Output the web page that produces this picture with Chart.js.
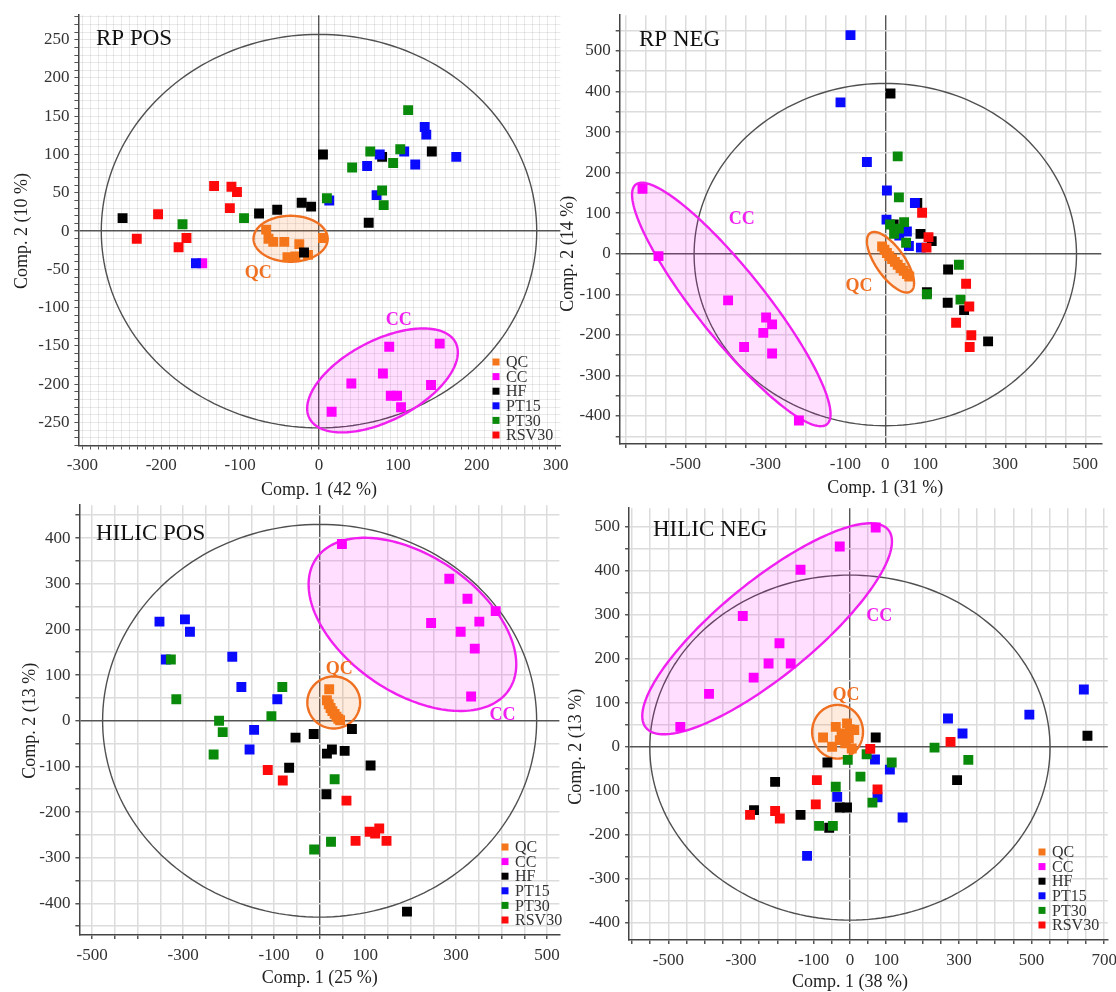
<!DOCTYPE html>
<html><head><meta charset="utf-8">
<script src="https://cdn.jsdelivr.net/npm/chart.js@4.4.1/dist/chart.umd.min.js"></script>
<style>
html,body{margin:0;padding:0;background:#fff;}
body{width:1116px;height:992px;position:relative;overflow:hidden;}
canvas{position:absolute;}
</style></head><body>
<canvas id="c1"></canvas><canvas id="c2"></canvas><canvas id="c3"></canvas><canvas id="c4"></canvas>
<script>
// ---------- groups ----------
const GROUPS = ['QC','CC','HF','PT15','PT30','RSV30'];
const COLORS = ['#f5761a','#ff00ff','#000000','#0a0aff','#0a8a0a','#ff0a0a'];

// ---------- RP POS ----------
const RPPOS_QC = [[-67,2],[-64,-10],[-58,-14],[-44,-14],[-25,-17],[-40,-34],[-30,-33],[-14,-31],[5,-9]];
const RPPOS_CC = [[-148,-42],[89,-151],[153,-147],[81,-186],[41,-199],[142,-201],[91,-215],[99,-215],[104,-230],[16,-236]];
const RPPOS_HF = [[-249,17],[-76,23],[-53,28],[-22,37],[-10,32],[5,100],[63,11],[80,97],[143,104],[-19,-28]];
const RPPOS_PT15 = [[13,40],[61,85],[77,100],[73,47],[108,104],[122,87],[134,136],[136,126],[174,97],[-156,-42]];
const RPPOS_PT30 = [[-173,9],[-95,17],[10,43],[42,83],[65,104],[80,53],[82,34],[94,89],[103,107],[113,158]];
const RPPOS_RSV30 = [[-231,-10],[-204,22],[-168,-9],[-178,-21],[-133,59],[-111,58],[-104,51],[-113,30]];
const RPPOS_XTICKS = [-300,-200,-100,0,100,200,300];
const RPPOS_YTICKS = [-250,-200,-150,-100,-50,0,50,100,150,200,250];

// ---------- RP NEG ----------
const RPNEG_QC = [[-8,18],[-2,10],[4,2],[10,-6],[17,-13],[24,-20],[31,-27],[38,-35],[46,-42],[54,-50],[60,-56]];
const RPNEG_CC = [[-607,160],[-567,-6],[-393,-115],[-298,-157],[-283,-174],[-305,-195],[-353,-230],[-283,-246],[-216,-411]];
const RPNEG_HF = [[13,395],[80,125],[21,72],[88,49],[116,31],[157,-39],[156,-121],[197,-139],[257,-216],[104,-95]];
const RPNEG_PT15 = [[-87,539],[-112,373],[-46,226],[4,156],[74,125],[3,84],[54,55],[59,19],[89,15],[35,45]];
const RPNEG_PT30 = [[31,240],[34,139],[47,78],[12,72],[22,49],[52,27],[104,-100],[184,-27],[188,-113],[34,62]];
const RPNEG_RSV30 = [[92,101],[108,41],[103,15],[202,-74],[210,-130],[177,-170],[215,-201],[211,-230]];
const RPNEG_XTICKS = [-500,-300,-100,0,100,300,500];
const RPNEG_YTICKS = [-400,-300,-200,-100,0,100,200,300,400,500];

// ---------- HILIC POS ----------
const HILPOS_QC = [[21,69],[16,45],[20,36],[24,28],[28,21],[33,15],[37,9],[41,4],[45,1]];
const HILPOS_CC = [[49,387],[285,311],[325,267],[387,240],[245,214],[351,217],[310,195],[341,158],[333,53]];
const HILPOS_HF = [[71,-18],[-13,-29],[-53,-37],[16,-72],[27,-63],[55,-66],[-67,-103],[112,-98],[15,-161],[192,-418]];
const HILPOS_PT15 = [[-352,217],[-296,222],[-285,195],[-338,134],[-192,140],[-172,74],[-93,47],[-144,-20],[-154,-63]];
const HILPOS_PT30 = [[-327,134],[-315,47],[-82,74],[-106,10],[-221,0],[-213,-25],[-233,-74],[33,-128],[25,-265],[-12,-282]];
const HILPOS_RSV30 = [[-114,-108],[-81,-131],[59,-175],[110,-243],[131,-236],[122,-247],[79,-263],[147,-263]];
const HILPOS_XTICKS = [-500,-300,-100,0,100,300,500];
const HILPOS_YTICKS = [-400,-300,-200,-100,0,100,200,300,400];

// ---------- HILIC NEG ----------
const HILNEG_QC = [[-74,21],[-49,0],[-39,45],[-23,30],[-3,19],[12,38],[-8,53],[-13,8],[5,-4],[-28,15],[0,40]];
const HILNEG_CC = [[71,498],[-28,455],[-136,402],[-295,297],[-194,235],[-224,189],[-163,189],[-265,157],[-388,120],[-467,45]];
const HILNEG_HF = [[654,25],[71,21],[-62,-36],[-206,-80],[295,-76],[-264,-144],[-136,-155],[-28,-138],[-8,-138],[-57,-184]];
const HILNEG_PT15 = [[644,130],[494,73],[270,64],[310,30],[69,-29],[110,-52],[-35,-114],[76,-115],[145,-161],[-118,-248]];
const HILNEG_PT30 = [[233,-2],[326,-30],[115,-36],[46,-17],[-6,-30],[29,-68],[-39,-91],[62,-127],[-85,-180],[-47,-180]];
const HILNEG_RSV30 = [[277,11],[56,-5],[-91,-76],[76,-97],[-94,-131],[-206,-146],[-193,-163],[-275,-155]];
const HILNEG_XTICKS = [-500,-300,-100,0,100,300,500,700];
const HILNEG_YTICKS = [-400,-300,-200,-100,0,100,200,300,400,500];

// confidence regions: [centerX, centerY, semiAxisA, semiAxisB, angleDeg]
const RPPOS_REGIONS = {T2:[0,0,276,257,0], QC:[-36,-10,47,30,0], CC:[80.5,-195,105,52,28.6]};
const RPNEG_REGIONS = {T2:[0,-2,478,422,0], QC:[13,-21,88,36,-54.5], CC:[-385,-125,380,85,-51]};
const HILPOS_REGIONS = {T2:[0,0,477,430,0], QC:[31,40,58,57,0], CC:[204,211,256,150,-34]};
const HILNEG_REGIONS = {T2:[0,-2,551,392,0], QC:[-34,34,70,61,0], CC:[-228,268,403,115,33]};
// group label anchors (data coords)
const RPPOS_LABELS = {QC:[-77,-55], CC:[101,-117]};
const RPNEG_LABELS = {QC:[-66,-80], CC:[-359,86]};
const HILPOS_LABELS = {QC:[43,113], CC:[402,12]};
const HILNEG_LABELS = {QC:[-11,117], CC:[81,297]};

const SERIF = '"Liberation Serif", "Times New Roman", serif';

const PANELS = [
 {id:'c1', left:0, top:0, w:600, h:505, area:[78.4,15.0,560.4,445.5], xr:[-305,306], yr:[-280,282], step:10,
  name:'RP POS', namePos:[96,39], xTitle:'Comp. 1 (42 %)', yTitle:'Comp. 2 (10 %)', xTitleY:490, yTitleX:22,
  xt:RPPOS_XTICKS, yt:RPPOS_YTICKS, groups:[RPPOS_QC,RPPOS_CC,RPPOS_HF,RPPOS_PT15,RPPOS_PT30,RPPOS_RSV30],
  regions:RPPOS_REGIONS, labels:RPPOS_LABELS, legend:[496,362], grid:'rgba(0,0,0,0.085)', gridW:1},
 {id:'c2', left:556, top:0, w:560, h:505, area:[619.7,14.2,1101.3,444.0], xr:[-664,540], yr:[-469,588], step:50,
  name:'RP NEG', namePos:[639,40], xTitle:'Comp. 1 (31 %)', yTitle:'Comp. 2 (14 %)', xTitleY:488, yTitleX:568,
  xt:RPNEG_XTICKS, yt:RPNEG_YTICKS, groups:[RPNEG_QC,RPNEG_CC,RPNEG_HF,RPNEG_PT15,RPNEG_PT30,RPNEG_RSV30],
  regions:RPNEG_REGIONS, labels:RPNEG_LABELS, legend:null, grid:'#dcdcdc', gridW:1.5},
 {id:'c3', left:0, top:490, w:600, h:502, area:[79.4,505.1,559.4,934.9], xr:[-528,527], yr:[-469,472], step:50,
  name:'HILIC POS', namePos:[96,534], xTitle:'Comp. 1 (25 %)', yTitle:'Comp. 2 (13 %)', xTitleY:978, yTitleX:30,
  xt:HILPOS_XTICKS, yt:HILPOS_YTICKS, groups:[HILPOS_QC,HILPOS_CC,HILPOS_HF,HILPOS_PT15,HILPOS_PT30,HILPOS_RSV30],
  regions:HILPOS_REGIONS, labels:HILPOS_LABELS, legend:[505,847], grid:'#dcdcdc', gridW:1.5},
 {id:'c4', left:556, top:490, w:580, h:502, area:[629.1,508.2,1107.8,939.9], xr:[-608,710], yr:[-439,542], step:50,
  name:'HILIC NEG', namePos:[653,530], xTitle:'Comp. 1 (38 %)', yTitle:'Comp. 2 (13 %)', xTitleY:982, yTitleX:576,
  xt:HILNEG_XTICKS, yt:HILNEG_YTICKS, groups:[HILNEG_QC,HILNEG_CC,HILNEG_HF,HILNEG_PT15,HILNEG_PT30,HILNEG_RSV30],
  regions:HILNEG_REGIONS, labels:HILNEG_LABELS, legend:[1042,852], grid:'#dcdcdc', gridW:1.5}
];

const decor = {
  id:'decor',
  beforeDatasetsDraw(chart, args, o) {
    const {ctx, chartArea:a, scales:{x,y}} = chart;
    const p = o.panel;
    ctx.save();
    ctx.beginPath(); ctx.rect(a.left, a.top, a.right-a.left, a.bottom-a.top); ctx.clip();
    const styles = [
      ['T2', null, '#505050', 1.4],
      ['QC', 'rgba(245,118,26,0.15)', '#f07022', 2.4],
      ['CC', 'rgba(255,0,255,0.13)', '#f020f0', 2.4]
    ];
    styles.forEach(([k, fill, stroke, lw]) => {
      const [cx, cy, ra, rb, deg] = p.regions[k];
      const th = deg*Math.PI/180, c = Math.cos(th), s = Math.sin(th);
      ctx.beginPath();
      for (let i = 0; i <= 200; i++) {
        const t = i/200*2*Math.PI, dx = ra*Math.cos(t), dy = rb*Math.sin(t);
        const px = x.getPixelForValue(cx + dx*c - dy*s), py = y.getPixelForValue(cy + dx*s + dy*c);
        if (i) ctx.lineTo(px, py); else ctx.moveTo(px, py);
      }
      ctx.closePath();
      if (fill) { ctx.fillStyle = fill; ctx.fill(); }
      ctx.strokeStyle = stroke; ctx.lineWidth = lw; ctx.stroke();
    });
    ctx.restore();
  },
  afterDatasetsDraw(chart, args, o) {
    const {ctx, scales:{x,y}} = chart;
    const p = o.panel;
    ctx.save();
    // group labels
    ctx.font = 'bold 18px ' + SERIF; ctx.textAlign = 'center'; ctx.textBaseline = 'middle';
    ctx.fillStyle = '#f07022';
    ctx.fillText('QC', x.getPixelForValue(p.labels.QC[0]), y.getPixelForValue(p.labels.QC[1]));
    ctx.fillStyle = '#f020f0';
    ctx.fillText('CC', x.getPixelForValue(p.labels.CC[0]), y.getPixelForValue(p.labels.CC[1]));
    // panel name
    ctx.font = '23px ' + SERIF; ctx.textAlign = 'left'; ctx.fillStyle = '#111';
    ctx.fillText(p.name, p.namePos[0]-p.left, p.namePos[1]-p.top);
    // axis titles centred on zero
    ctx.font = '18px ' + SERIF; ctx.fillStyle = '#222'; ctx.textAlign = 'center';
    ctx.fillText(p.xTitle, x.getPixelForValue(0), p.xTitleY - p.top);
    ctx.save();
    ctx.translate(p.yTitleX - p.left, y.getPixelForValue(0));
    ctx.rotate(-Math.PI/2);
    ctx.fillText(p.yTitle, 0, 0);
    ctx.restore();
    // legend
    if (p.legend) {
      ctx.font = '16px ' + SERIF; ctx.textAlign = 'left'; ctx.textBaseline = 'middle';
      GROUPS.forEach((g, i) => {
        const lx = p.legend[0]-p.left, ly = p.legend[1]-p.top + i*14.6;
        ctx.fillStyle = COLORS[i]; ctx.fillRect(lx-3.5, ly-3.5, 7, 7);
        ctx.fillStyle = '#333'; ctx.fillText(g, lx+10, ly+1);
      });
    }
    ctx.restore();
  }
};

PANELS.forEach(p => {
  const cv = document.getElementById(p.id);
  cv.width = p.w; cv.height = p.h;
  cv.style.left = p.left + 'px'; cv.style.top = p.top + 'px';
  cv.style.width = p.w + 'px'; cv.style.height = p.h + 'px';
  const [L, T, R, B] = p.area;
  const gridOpts = {
    color: c => (c.tick && Math.round(c.tick.value) === 0) ? '#555555' : p.grid,
    lineWidth: c => (c.tick && Math.round(c.tick.value) === 0) ? 1.4 : p.gridW,
    tickColor: '#555', tickLength: 4, drawTicks: true
  };
  const tickFont = {family: SERIF, size: 17};
  new Chart(cv, {
    type: 'scatter',
    data: {datasets: GROUPS.map((g, i) => ({
      label: g, data: p.groups[i].map(([vx, vy]) => ({x: vx, y: vy})),
      backgroundColor: COLORS[i], borderWidth: 0, pointStyle: 'rect', pointRadius: 7,
      pointHoverRadius: 7, order: 6 - i
    }))},
    options: {
      responsive: false, animation: false, events: [],
      layout: {padding: {left: 0, top: T - p.top, right: p.left + p.w - R, bottom: 0}},
      plugins: {legend: {display: false}, tooltip: {enabled: false}, decor: {panel: p}},
      scales: {
        x: {type: 'linear', position: 'bottom', min: p.xr[0], max: p.xr[1],
          afterFit: s => { s.height = p.top + p.h - B; },
          grid: gridOpts, border: {display: true, color: '#444', width: 1.5},
          ticks: {stepSize: p.step, autoSkip: false, includeBounds: false, maxRotation: 0, minRotation: 0,
            padding: 6, font: tickFont, color: '#333',
            callback: v => p.xt.includes(Math.round(v)) ? String(Math.round(v)) : ''}},
        y: {type: 'linear', position: 'left', min: p.yr[0], max: p.yr[1],
          afterFit: s => { s.width = L - p.left; },
          grid: gridOpts, border: {display: true, color: '#444', width: 1.5},
          ticks: {stepSize: p.step, autoSkip: false, includeBounds: false, padding: 5, font: tickFont, color: '#333',
            callback: v => p.yt.includes(Math.round(v)) ? String(Math.round(v)) : ''}}
      }
    },
    plugins: [decor]
  });
});
</script>
</body></html>
